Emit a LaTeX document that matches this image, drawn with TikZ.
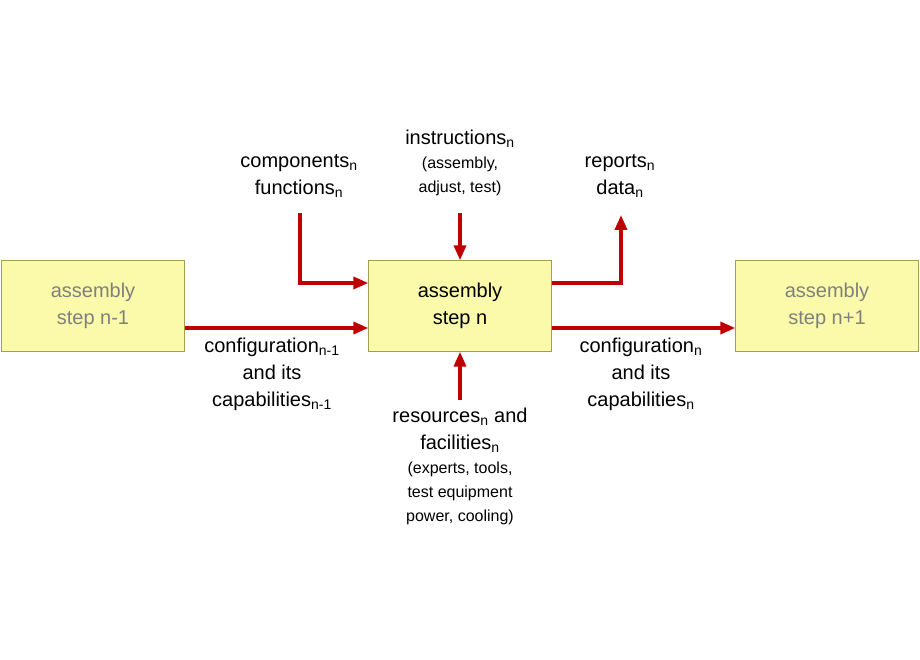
\documentclass[tikz,border=0pt]{standalone}
\usepackage{fontspec}
\setmainfont{Liberation Sans}
\usetikzlibrary{arrows.meta}
\definecolor{boxfill}{HTML}{FAFAAA}
\definecolor{boxline}{HTML}{A0A050}
\definecolor{flowred}{HTML}{C00000}
\tikzset{>={Triangle[length=15pt,width=12pt]}}
\tikzstyle{stepbox}=[draw=boxline,fill=boxfill,minimum width=183pt,minimum height=91pt,align=center,font=\fontsize{20}{27}\selectfont]
\tikzstyle{flow}=[flowred,line width=3.5pt,->]
\tikzstyle{lbl}=[align=center,font=\fontsize{20}{27}\selectfont]
\newcommand\sub[1]{\textsubscript{#1}}
\newcommand\smalltxt{\fontsize{16}{25}\selectfont}
\begin{document}
\begin{tikzpicture}[x=1pt,y=-1pt]
  \useasboundingbox (0,0) rectangle (920,660);
  % boxes
  \node[stepbox,text=gray] (prev) at (93,306) {assembly\\step n-1};
  \node[stepbox] (cur) at (460,306) {assembly\\step n};
  \node[stepbox,text=gray] (next) at (827,306) {assembly\\step n+1};

  % free ends
  \coordinate (comp) at (300,213);
  \coordinate (instr) at (460,213);
  \coordinate (rep) at (621,215);
  \coordinate (res) at (460,400);

  % connectors
  \draw[flow] (prev.east|-0,328) -- (cur.west|-0,328);
  \draw[flow] (cur.east|-0,328) -- (next.west|-0,328);
  \draw[flow] (comp) |- (cur.west|-0,283);
  \draw[flow] (instr) -- (cur.north);
  \draw[flow] (cur.east|-0,283) -| (rep);
  \draw[flow] (res) -- (cur.south);

  % labels
  \node[lbl] (compL) at (299,176) {components\sub{n}\\functions\sub{n}};
  \node[lbl,anchor=north] (instrL) at (460,126) {instructions\sub{n}\\[-3pt]{\smalltxt(assembly,}\\[-3pt]{\smalltxt adjust, test)}};
  \node[lbl] (repL) at (620,176) {reports\sub{n}\\data\sub{n}};
  \node[lbl,anchor=north] (confA) at (272,334) {configuration\sub{n-1}\\and its\\capabilities\sub{n-1}};
  \node[lbl,anchor=north] (confB) at (641,334) {configuration\sub{n}\\and its\\capabilities\sub{n}};
  \node[lbl,anchor=north] (resL) at (460,404)
    {resources\sub{n} and\\facilities\sub{n}\\[-3pt]{\smalltxt(experts, tools,}\\[-3pt]{\smalltxt test equipment}\\[-3pt]{\smalltxt power, cooling)}};
\end{tikzpicture}
\end{document}
